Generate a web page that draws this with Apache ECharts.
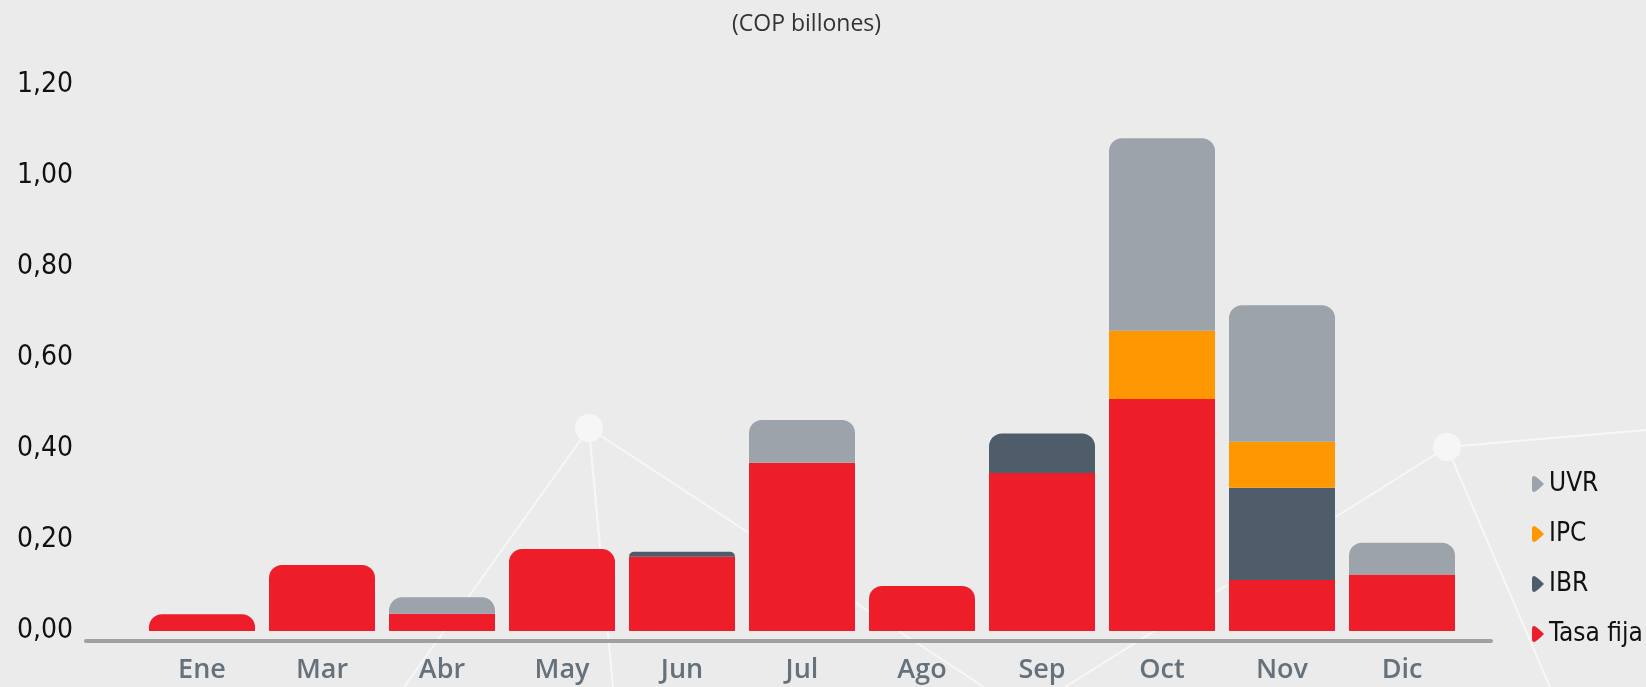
<!DOCTYPE html>
<html>
<head>
<meta charset="utf-8">
<title>Emisiones (COP billones)</title>
<script src="https://cdn.jsdelivr.net/npm/echarts@6/dist/echarts.min.js"></script>
<style>
  html, body { margin: 0; padding: 0; background: #ebebeb; }
  #chart { width: 1646px; height: 687px; }
</style>
</head>
<body>
<div id="chart"></div>
<script>
// datos
const meses = ["Ene", "Mar", "Abr", "May", "Jun", "Jul", "Ago", "Sep", "Oct", "Nov", "Dic"];
const tasaFija = [0.037, 0.145, 0.038, 0.18, 0.163, 0.37, 0.099, 0.347, 0.51, 0.112, 0.124];
const ibr = [0, 0, 0, 0, 0.011, 0, 0, 0.087, 0, 0.203, 0];
const ipc = [0, 0, 0, 0, 0, 0, 0, 0, 0.15, 0.101, 0];
const uvr = [0, 0, 0.036, 0, 0, 0.094, 0, 0, 0.423, 0.3, 0.07];
const yTicks = [0, 0.2, 0.4, 0.6, 0.8, 1.0, 1.2];

const COLORS = {
  "Tasa fija": "#ee1d2a",
  IBR: "#4e5d69",
  IPC: "#ff9800",
  UVR: "#9ca3aa"
};

const NARROW = "'Liberation Sans Narrow', 'DejaVu Sans Condensed', sans-serif";

document.addEventListener("DOMContentLoaded", () => {
  const chart = echarts.init(document.getElementById("chart"));
  chart.setOption(buildOption());
});

// solo el segmento de arriba lleva esquinas redondeadas
function buildSeries() {
  const stacks = [
    ["Tasa fija", tasaFija],
    ["IBR", ibr],
    ["IPC", ipc],
    ["UVR", uvr]
  ];
  const topIdx = meses.map((_, i) => {
    let top = 0;
    stacks.forEach(([, vals], s) => {
      if (vals[i] > 0) top = s;
    });
    return top;
  });

  return stacks.map(([name, vals], s) => ({
    name,
    type: "bar",
    stack: "total",
    barWidth: 106,
    itemStyle: { color: COLORS[name] },
    data: vals.map((v, i) => ({
      value: v,
      itemStyle: { borderRadius: topIdx[i] === s ? [13, 13, 0, 0] : 0 }
    }))
  }));
}

// líneas decorativas del fondo
function buildDecor() {
  const A = [589, 428];
  const B = [1447, 447];
  const lineStyle = { stroke: "#f7f7f7", lineWidth: 2 };
  const ends = [
    [A, [404, 687]],
    [A, [613, 687]],
    [A, [984, 687]],
    [B, [1646, 430]],
    [B, [1550, 687]],
    [B, [1065, 687]]
  ];
  const els = ends.map(([p, q]) => ({
    type: "line",
    z: -10,
    shape: { x1: p[0], y1: p[1], x2: q[0], y2: q[1] },
    style: lineStyle,
    silent: true
  }));
  [A, B].forEach((c) => {
    els.push({
      type: "circle",
      z: -9,
      shape: { cx: c[0], cy: c[1], r: 14 },
      style: { fill: "#f6f6f6" },
      silent: true
    });
  });
  // línea del eje x, más ancha que las categorías
  els.push({
    type: "line",
    z: -5,
    shape: { x1: 86, y1: 641, x2: 1491, y2: 641 },
    style: { stroke: "#a0a0a0", lineWidth: 4, lineCap: "round" },
    silent: true
  });
  return els;
}

function buildOption() {
  return {
    backgroundColor: "#ebebeb",
    animation: false,
    title: {
      text: "(COP billones)",
      left: 727,
      top: 8,
      textStyle: {
        fontFamily: "'Open Sans', sans-serif",
        fontWeight: "normal",
        fontSize: 23,
        color: "#333"
      }
    },
    legend: {
      data: ["UVR", "IPC", "IBR", "Tasa fija"],
      orient: "vertical",
      left: 1527,
      top: 465,
      itemWidth: 12,
      itemHeight: 16,
      itemGap: 22,
      icon: "path://M2,0 Q0,0 0,3 L0,13 Q0,16 2,16 Q4,16 12,8 Q4,0 2,0 Z",
      textStyle: {
        fontFamily: NARROW,
        fontSize: 26,
        lineHeight: 28,
        color: "#111",
        padding: [0, 0, 0, 0]
      }
    },
    grid: { left: 142, right: 184, top: 85, bottom: 56 },
    xAxis: {
      type: "category",
      data: meses,
      axisLine: { show: false },
      axisTick: { show: false },
      axisLabel: {
        margin: 26,
        fontFamily: "'Open Sans', sans-serif",
        fontWeight: 600,
        fontSize: 27,
        color: "#65727c"
      }
    },
    yAxis: {
      type: "value",
      min: yTicks[0],
      max: yTicks[yTicks.length - 1],
      interval: 0.2,
      splitLine: { show: false },
      axisLine: { show: false },
      axisTick: { show: false },
      axisLabel: {
        margin: 69,
        fontFamily: NARROW,
        fontSize: 28,
        color: "#111",
        formatter: (v) => v.toFixed(2).replace(".", ",")
      }
    },
    graphic: { elements: buildDecor() },
    series: buildSeries()
  };
}
</script>
</body>
</html>
